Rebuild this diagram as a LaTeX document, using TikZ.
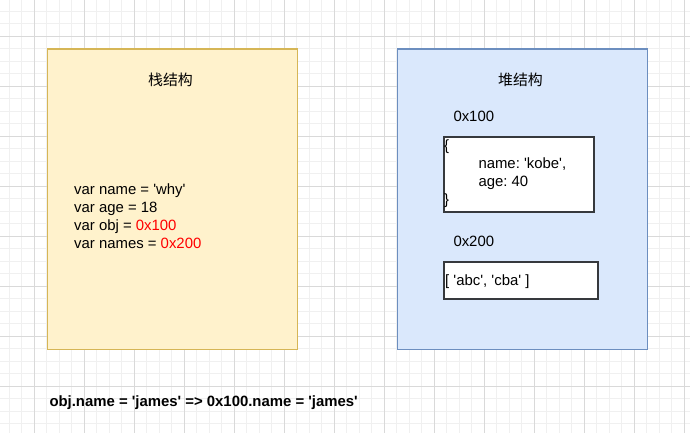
\documentclass[tikz,border=0pt]{standalone}
\usepackage{fontspec}
\setmainfont{Liberation Sans}[Ligatures=TeXOff]
\newfontfamily\cjk{Noto Sans CJK SC}
\frenchspacing
\definecolor{stackfill}{HTML}{FFF2CC}
\definecolor{stackline}{HTML}{D6B656}
\definecolor{heapfill}{HTML}{DAE8FC}
\definecolor{heapline}{HTML}{6C8EBF}
\definecolor{cellline}{HTML}{36393D}
\definecolor{addr}{HTML}{FF0000}
\tikzset{
  gridminor/.style={draw=black!6, line width=0.8pt},
  gridmajor/.style={draw=black!15, line width=0.8pt},
  area/.style={line width=1.2pt, minimum width=250pt, minimum height=300pt, anchor=north west},
  cell/.style={draw=cellline, fill=white, line width=1.8pt, anchor=north west},
  code/.style={anchor=base west, align=left}
}

\begin{document}
\begin{tikzpicture}[x=1pt,y=-1pt,
  every node/.style={font=\fontsize{14.9}{17.8}\selectfont, inner sep=0}]
  \useasboundingbox (0,0) rectangle (690,433);
  \foreach \x in {9.3,21.8,...,690} \draw[gridminor] (\x,0) -- (\x,433);
  \foreach \y in {11,23.5,...,433} \draw[gridminor] (0,\y) -- (690,\y);
  \foreach \x in {34.3,84.3,...,690} \draw[gridmajor] (\x,0) -- (\x,433);
  \foreach \y in {36,86.1,...,433} \draw[gridmajor] (0,\y) -- (690,\y);

  \node[area, fill=stackfill, draw=stackline] (stack) at (46.8,48.5) {};
  \node (stacktitle) at (170.5,80) {\cjk 栈结构};
  \node[code] (stackvars) at (74,248.3) {var name = 'why'\\var age = 18\\var obj = \textcolor{addr}{0x100}\\var names = \textcolor{addr}{0x200}};

  \node[area, fill=heapfill, draw=heapline] (heap) at (396.8,48.5) {};
  \node (heaptitle) at (520.5,80) {\cjk 堆结构};
  \node[code] (objaddr) at (453.3,121.7) {0x100};
  \node[cell, minimum width=150pt, minimum height=74.7pt] (objcell) at (442.7,136) {};
  \node[code] (objbody) at (444,204) {\{\\\hspace*{34.3pt}name: 'kobe',\\\hspace*{34.3pt}age: 40\\\}};
  \node[code] (arraddr) at (453.3,246.7) {0x200};
  \node[cell, minimum width=154pt, minimum height=37.3pt] (arrcell) at (442.7,261) {};
  \node[code] (arrbody) at (445,285.3) {[ 'abc', 'cba' ]};

  \node[code, font=\fontsize{14.9}{17.8}\selectfont\bfseries] (note) at (49.3,406.7) {obj.name = 'james' => 0x100.name = 'james'};
\end{tikzpicture}
\end{document}
